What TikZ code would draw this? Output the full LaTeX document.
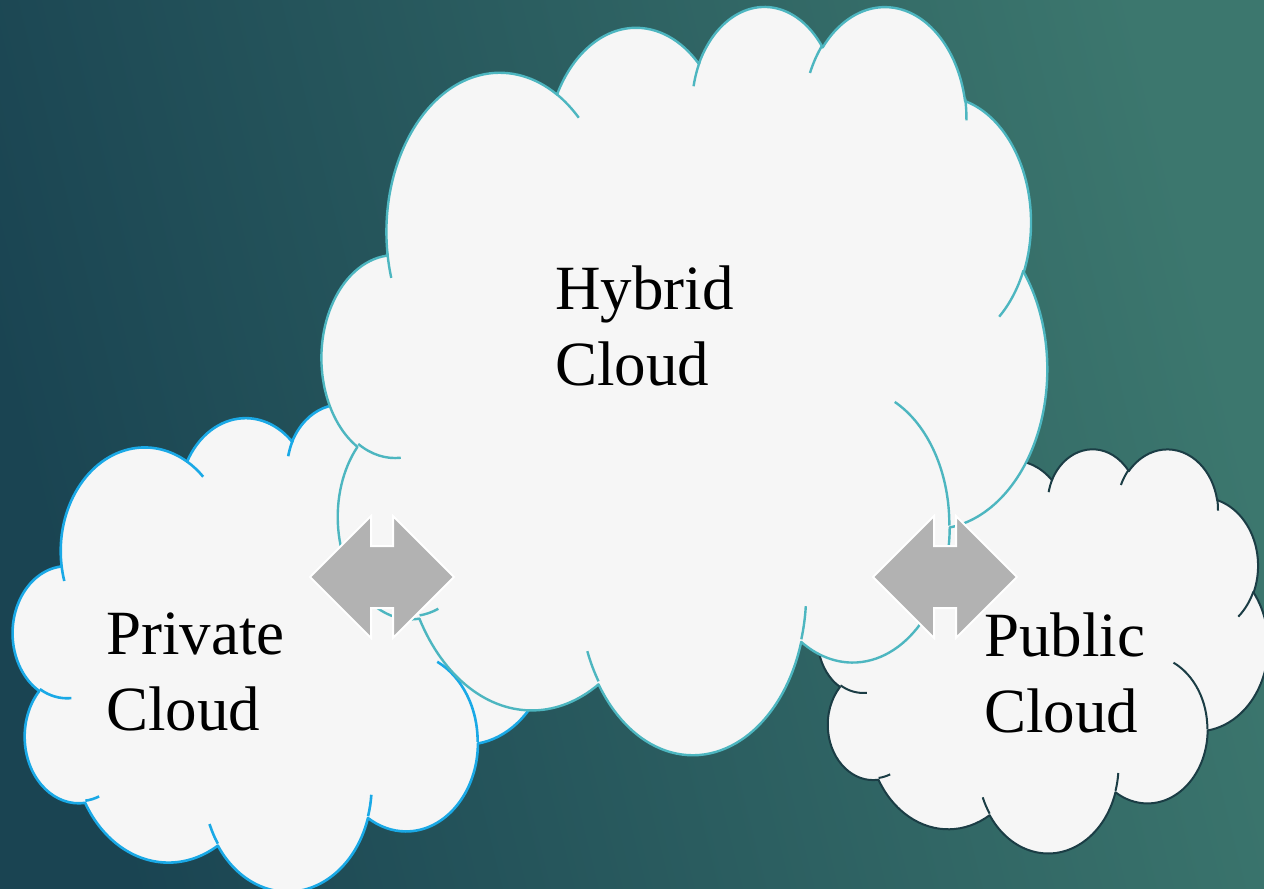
\documentclass[tikz,border=0pt]{standalone}
\usepackage{fontspec}
\setmainfont{Liberation Serif}
\usetikzlibrary{calc}

\definecolor{bgdark}{HTML}{1A4452}
\definecolor{bglight}{HTML}{3C776E}
\definecolor{cloudfill}{HTML}{F6F6F6}
\definecolor{hybridline}{HTML}{4DB6C0}
\definecolor{privateline}{HTML}{1AA9E6}
\definecolor{publicline}{HTML}{1B3D45}
\definecolor{arrowgray}{HTML}{B2B2B2}

% one bulge of the cloud, angles measured as seen on the ellipse
\newcommand\cldarc[4]{arc[x radius=#1, y radius=#2,
  start angle={atan2(#1*sin(#3),#2*cos(#3))},
  delta angle={mod(atan2(#1*sin(#3+#4),#2*cos(#3+#4))-atan2(#1*sin(#3),#2*cos(#3))+720,360)}]}

% outline of the cloud in a 432 x 432 box
\newcommand\cloudoutline{(39.00,143.70)
  \cldarc{67.53}{91.90}{-190.4875}{123.7805}
  \cldarc{53.33}{72.67}{-144.1024}{89.9452}
  \cldarc{43.65}{59.45}{-145.8079}{99.7230}
  \cldarc{48.57}{65.95}{-130.9861}{117.2417}
  \cldarc{53.33}{72.73}{-78.7089}{109.0269}
  \cldarc{67.75}{92.20}{-46.2673}{130.2690}
  \cldarc{57.85}{78.67}{0.6250}{114.0333}
  \cldarc{67.52}{92.15}{22.4516}{115.1726}
  \cldarc{77.20}{105.43}{66.2426}{75.7110}
  \cldarc{43.60}{59.18}{85.0579}{146.7356}
  \cldarc{43.45}{59.45}{113.1715}{152.5232}
  -- cycle}

% the little creases inside the cloud
\newcommand\cloudcreases{
  (46.93,261.77) \cldarc{43.45}{59.45}{86.7420}{26.4295}
  (69.28,348.99) \cldarc{43.60}{59.18}{73.6105}{11.4475}
  (164.78,390.90) \cldarc{67.52}{92.15}{137.6242}{14.0811}
  (288.27,347.51) \cldarc{67.52}{92.15}{6.4533}{15.9984}
  (341.29,229.54) \cldarc{57.85}{78.67}{-70.2924}{70.9174}
  (417.98,153.54) \cldarc{53.33}{72.73}{30.3180}{27.7515}
  (383.24,54.26) \cldarc{48.57}{65.95}{-13.7443}{14.8589}
  (290.78,39.52) \cldarc{48.57}{65.95}{-149.1815}{18.1954}
  (221.41,47.20) \cldarc{43.65}{59.45}{-163.4943}{17.6864}
  (140.00,51.92) \cldarc{67.53}{91.90}{-66.7070}{12.3194}
  (41.27,157.89) \cldarc{67.53}{91.90}{157.6544}{11.8582}}

% style, left, top, width, height
\newcommand\drawcloud[5]{%
  \pgfmathsetmacro\cldw{#4/432}%
  \pgfmathsetmacro\cldh{#5/432}%
  \begin{scope}[shift={(#2,#3)},x=\cldw pt,y=-\cldh pt]
    \draw[#1] \cloudoutline;
    \draw[#1,fill=none] \cloudcreases;
  \end{scope}}

\begin{document}
\begin{tikzpicture}[x=1pt,y=-1pt,
  cloudbox/.style={fill=cloudfill,line width=2.4pt,line join=round},
  lrarrow/.style={fill=arrowgray,draw=white,line width=2pt},
  cloudlabel/.style={anchor=base west,align=left,inner sep=0pt,
    font=\fontsize{63}{76}\selectfont}]

\useasboundingbox (0,0) rectangle (1264,889);
\clip (0,0) rectangle (1264,889);
\shade[top color=bgdark,bottom color=bglight,shading angle=104] (0,0) rectangle (1264,889);

\drawcloud{cloudbox,draw=privateline,line width=2.6pt}{13}{403}{537}{487}
\drawcloud{cloudbox,draw=publicline,line width=2pt}{818}{448}{450}{404}
\drawcloud{cloudbox,draw=hybridline}{322}{4.5}{725}{748}

\foreach \ax in {382,945}{
  \draw[lrarrow,shift={(\ax,577)}] (-72,0) -- (-11,-61) -- (-11,-31) -- (11,-31) -- (11,-61)
    -- (72,0) -- (11,61) -- (11,31) -- (-11,31) -- (-11,61) -- cycle;
}

% base anchor sits on the last line
\node[cloudlabel] (hybrid) at (555,385) {Hybrid\\Cloud};
\node[cloudlabel] (private) at (106,730) {Private\\Cloud};
\node[cloudlabel] (public) at (984,732) {Public\\Cloud};

\end{tikzpicture}
\end{document}
